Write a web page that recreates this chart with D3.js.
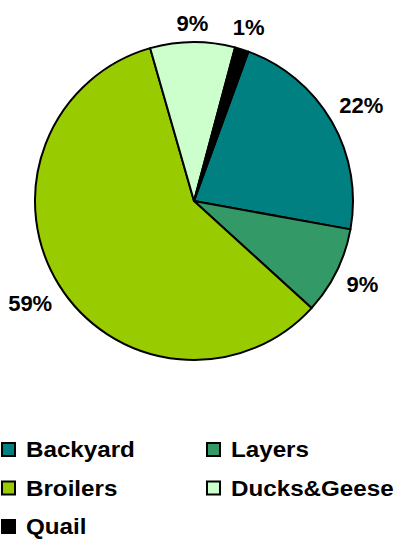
<!DOCTYPE html>
<html>
<head>
<meta charset="utf-8">
<script src="https://cdn.jsdelivr.net/npm/d3@7"></script>
<style>
  html, body { margin: 0; padding: 0; background: #fff; }
  svg { display: block; }
  text { font-family: "Liberation Sans", Arial, sans-serif; font-weight: bold; fill: #000; }
</style>
</head>
<body>
<svg id="chart" width="402" height="539"></svg>
<script>
const categories = ["Backyard", "Layers", "Broilers", "Ducks&Geese", "Quail"];
const values = [22.3, 8.9, 58.8, 8.6, 1.4];
const colors = ["#008080", "#339966", "#99CC00", "#CCFFCC", "#000000"];

const W = 402, H = 539;
const cx = 194, cy = 201, R = 159;
const startDeg = 20;

const svg = d3.select("#chart");
const data = categories.map((c, i) => ({ name: c, value: values[i], color: colors[i] }));
const total = d3.sum(values);
const fmt = d3.format(".0%");

const pie = d3.pie().sort(null).value(d => d.value)
  .startAngle(startDeg * Math.PI / 180)
  .endAngle(startDeg * Math.PI / 180 + 2 * Math.PI);
const arcs = pie(data);
const arc = d3.arc().innerRadius(0).outerRadius(R);

const g = svg.append("g").attr("transform", `translate(${cx},${cy})`);
g.selectAll("path.slice").data(arcs).join("path")
  .attr("class", "slice")
  .attr("d", arc)
  .attr("fill", d => d.data.color)
  .attr("stroke", "#000")
  .attr("stroke-width", 2)
  .attr("stroke-linejoin", "round");

// labels outside the pie
const fs = 22;
const labels = g.selectAll("text.lbl").data(arcs).join("text")
  .attr("class", "lbl")
  .attr("text-anchor", "middle")
  .style("font-size", fs + "px")
  .text(d => fmt(d.data.value / total));

labels.each(function(d) {
  const bb = this.getBBox();
  const w = bb.width, h = fs * 0.716;
  const a = (d.startAngle + d.endAngle) / 2;
  const dx = Math.sin(a), dy = -Math.cos(a);
  const ext = Math.abs(dx) * w / 2 + Math.abs(dy) * h / 2;
  const r = R + 11 + ext;
  d3.select(this)
    .attr("x", dx * r)
    .attr("y", dy * r + h / 2);
});

// legend
const colX = d3.scaleOrdinal().domain([0, 1]).range([2, 207]);
const rowY = d3.scaleLinear().domain([0, 1]).range([457, 495.5]);
const leg = svg.append("g").selectAll("g").data(data).join("g")
  .attr("transform", (d, i) => `translate(${colX(i % 2)},${rowY(Math.floor(i / 2))})`);
leg.append("rect")
  .attr("x", 0).attr("y", -14)
  .attr("width", 13).attr("height", 13)
  .attr("fill", d => d.color)
  .attr("stroke", "#000")
  .attr("stroke-width", 2);
leg.append("text")
  .attr("transform", "translate(24,0) scale(1.1,1)")
  .style("font-size", fs + "px")
  .text(d => d.name);
</script>
</body>
</html>
